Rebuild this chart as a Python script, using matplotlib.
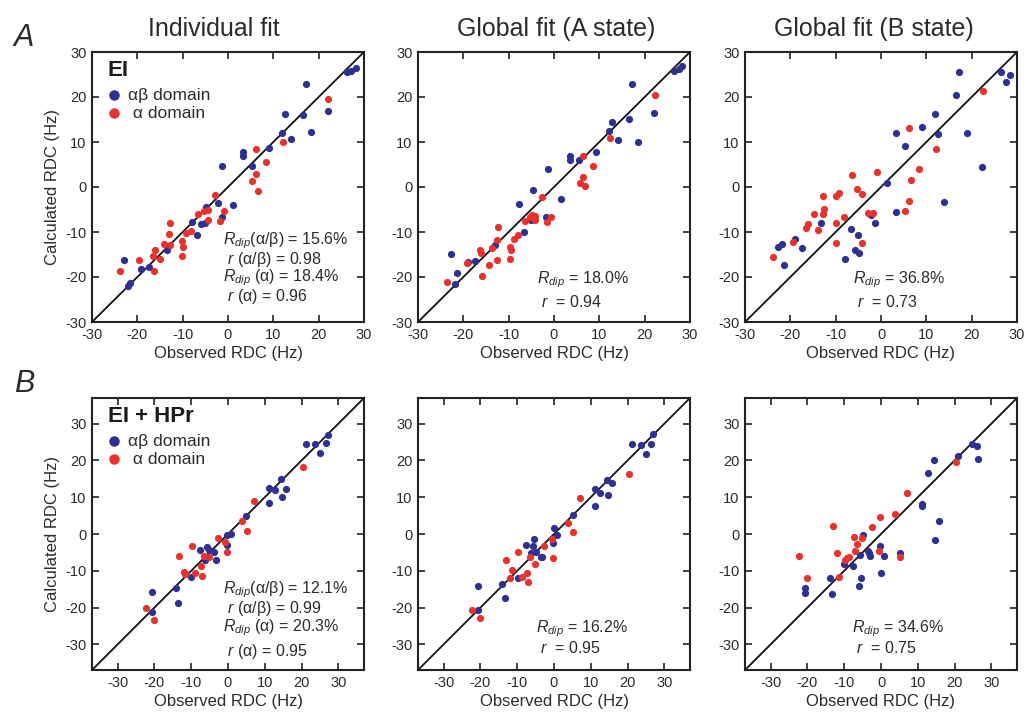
import matplotlib
matplotlib.use('Agg')
import matplotlib.pyplot as plt

plt.rcParams['font.family'] = ['Liberation Sans', 'DejaVu Sans']
plt.rcParams['mathtext.fontset'] = 'custom'
plt.rcParams['mathtext.it'] = 'Liberation Sans:italic'
plt.rcParams['mathtext.rm'] = 'Liberation Sans'
plt.rcParams['mathtext.sf'] = 'Liberation Sans'
plt.rcParams['axes.unicode_minus'] = False

BLUE = '#2e3192'
RED = '#e8322e'
TXT = '#2b2b2b'

# ---------------- data (observed, calculated RDC in Hz) ----------------
# Row A: EI
a1_ab_obs = [17.2, 12.6, 16.6, 18.4, 13.9, 11.9, 9.1, 3.4, 3.4, 5.2, -1.4, -2.1, 1.2, -1.4, -4.8, -5.9, -5.1,
             -7.9, -6.8, -13.4, -22.9, -19.2, -17.5, -21.7, -22.0, 22.0, 26.3, 27.2, 28.2]
a1_ab_calc = [22.8, 16.2, 16.1, 12.2, 10.7, 11.9, 8.7, 7.7, 7.0, 4.7, 4.7, -3.6, -4.1, -6.6, -4.5, -8.3, -7.9,
              -7.8, -10.7, -14.1, -16.2, -18.3, -17.7, -21.4, -21.9, 16.9, 25.5, 25.8, 26.5]
a1_a_obs = [12.1, 6.1, 8.3, 6.1, 5.4, 6.6, -2.9, -0.8, -1.8, -4.4, -5.4, -6.7, -4.4, -8.2, -9.3, -10.1, -10.0,
            -10.1, -12.7, -13.0, -12.9, -14.1, -14.9, -16.2, -16.6, -16.3, -19.7, -23.9, 22.0]
a1_a_calc = [10.1, 8.5, 5.6, 3.0, 1.3, -0.9, -1.8, -5.3, -7.6, -5.1, -5.3, -6.0, -7.3, -9.7, -10.3, -11.9, -13.4,
             -15.3, -7.9, -10.4, -12.8, -12.7, -16.1, -13.9, -15.3, -18.7, -16.3, -18.7, 19.6]

a2_ab_obs = [-22.7, -21.5, -21.8, -18.9, -17.4, -13.1, -7.8, -6.6, -4.6, -1.3, -1.7, 1.5, -5.0, 3.6, 3.6, 5.5,
             9.3, 12.2, 12.9, 14.2, 16.6, 17.1, 18.5, 22.0, 26.5, 27.5, 28.3]
a2_ab_calc = [-14.8, -19.2, -21.6, -16.6, -16.4, -12.8, -3.7, -10.1, -0.7, 4.0, -6.6, -2.7, -7.3, 7.0, 6.1, 5.9,
              7.7, 12.5, 14.4, 10.4, 15.1, 22.8, 9.9, 16.5, 25.8, 26.3, 27.0]
a2_a_obs = [-23.5, -19.3, -16.3, -16.0, -15.8, -14.4, -13.7, -12.6, -12.4, -12.6, -9.7, -9.5, -9.8, -8.9, -7.9,
            -6.4, -5.4, -4.8, -4.1, -4.1, -2.6, -1.5, -0.7, 6.4, 6.4, 5.8, 6.9, 8.5, 12.4, 22.3]
a2_a_calc = [-21.2, -16.8, -13.9, -14.7, -19.8, -17.3, -13.6, -11.8, -8.9, -16.3, -13.3, -14.1, -15.9, -11.6, -10.7,
             -7.6, -6.6, -6.2, -6.4, -7.4, -2.2, -7.7, -6.6, 7.0, 2.3, 0.8, 0.3, 4.7, 10.8, 20.5]

a3_ab_obs = [-22.7, -21.8, -21.5, -19.0, -17.4, -13.2, -7.9, -6.7, -5.8, -5.1, -4.8, -2.1, -1.4, 1.25, 3.3, 3.3,
             5.3, 9.1, 11.9, 12.6, 13.9, 16.5, 17.1, 19.0, 22.3, 26.5, 28.4, 27.6]
a3_ab_calc = [-13.4, -12.7, -17.3, -11.6, -13.5, -7.9, -15.9, -9.3, -13.9, -10.7, -14.7, -6.2, -8.1, 0.8, -5.6, 11.9,
              9.2, 13.3, 16.2, 11.7, -3.3, 20.4, 25.5, 12.0, 4.5, 25.6, 24.8, 23.3]
a3_a_obs = [-23.75, -19.5, -16.5, -16.1, -14.8, -13.8, -12.9, -12.7, -12.6, -10.0, -9.2, -9.9, -10.0, -8.1, -6.5,
            -5.4, -4.3, -4.3, -2.9, -1.7, -0.9, 5.4, 6.1, 6.6, 6.1, 8.3, 12.1, 22.5]
a3_a_calc = [-15.6, -12.2, -9.0, -8.3, -6.0, -9.6, -2.1, -6.0, -4.9, -2.0, -1.3, -8.1, -12.5, -6.6, 2.7,
             -0.4, -1.6, -12.4, -5.7, -5.7, 3.3, -5.4, -3.1, 1.5, 13.2, 4.1, 8.4, 21.3]

# Row B: EI + HPr
b1_ab_obs = [21.2, 23.6, 25.1, 14.5, 11.2, 12.7, 15.8, 14.7, 11.2, 5.0, 0.8, -0.15, -0.4, -7.7, -5.6, -5.3, -3.8,
             -3.3, -6.2, -10.1, -14.2, -13.6, -20.8, -20.7, 26.6, 27.1]
b1_ab_calc = [24.5, 24.5, 22.1, 15.0, 12.5, 12.0, 12.3, 10.1, 8.3, 4.9, 0.1, -0.35, -3.0, -4.25, -3.5, -4.3, -4.8,
              -7.2, -7.2, -11.8, -14.7, -18.8, -15.8, -21.3, 24.7, 26.9]
b1_a_obs = [20.5, 7.0, 3.8, 5.2, -2.6, -0.9, -0.4, -9.8, -13.2, -6.6, -5.2, -7.3, -9.1, -12.1, -11.6, -7.2,
            -22.4, -20.1]
b1_a_calc = [18.1, 9.1, 3.5, 0.8, -1.2, -2.3, -4.9, -3.4, -6.1, -5.9, -6.3, -8.7, -10.6, -10.4, -11.0, -11.4,
             -20.1, -23.5]

b2_ab_obs = [-20.6, -20.6, -14.1, -13.4, -9.9, -7.7, -5.45, -5.7, -6.3, -4.9, -3.6, -3.2, -0.1, -0.3, 0.8, 5.1,
             11.2, 11.2, 12.6, 14.5, 15.8, 14.7, 21.3, 23.6, 25.1, 26.4, 26.8]
b2_ab_calc = [-14.1, -20.7, -13.6, -17.4, -12.0, -3.1, -1.35, -3.25, -5.1, -4.8, -6.2, -6.3, 1.5, -2.4, -0.2, 5.2,
              12.25, 7.6, 11.2, 14.6, 14.0, 10.5, 24.5, 24.3, 21.8, 24.5, 27.1]
b2_a_obs = [-22.2, -20.0, -13.0, -11.5, -11.9, -9.8, -8.8, -7.3, -7.0, -6.6, -5.2, -2.6, -0.55, -0.3, 3.8, 5.2,
            7.2, 20.5]
b2_a_calc = [-20.8, -22.9, -7.2, -9.8, -11.9, -4.8, -11.6, -10.6, -13.0, -6.2, -8.2, -3.25, -1.4, -6.6, 2.9, 0.6,
             9.7, 16.2]

b3_ab_obs = [-20.6, -20.6, -14.0, -13.4, -10.0, -7.6, -5.9, -5.45, -5.7, -5.0, -3.6, -3.4, -3.1, -0.2, 0.0, 0.7,
             5.2, 11.2, 11.2, 12.7, 14.5, 14.7, 15.8, 21.0, 24.8, 26.0, 26.5]
b3_ab_calc = [-14.8, -16.1, -11.9, -16.4, -8.1, -8.8, -14.1, -12.1, -5.7, -0.3, -4.5, -5.1, -5.9, -3.2, -10.6, -5.9,
              -5.2, 8.1, 7.5, 16.5, 20.0, -1.6, 3.55, 21.3, 24.5, 24.0, 20.5]
b3_a_obs = [-22.2, -20.0, -13.0, -11.9, -11.5, -9.9, -9.2, -8.7, -7.3, -7.1, -6.6, -5.2, -2.5, -0.6, -0.3, 3.9,
            5.3, 7.1, 20.3]
b3_a_calc = [-5.9, -11.9, 2.1, -5.2, -11.7, -7.1, -6.4, -6.2, -0.7, -4.6, -2.8, -1.2, 1.9, -4.7, 4.5, 5.5,
             -6.3, 11.1, 19.5]

col_titles = ['Individual fit', 'Global fit (A state)', 'Global fit (B state)']
row_letters = ['A', 'B']
row_names = ['EI', 'EI + HPr']
legend_labels = ['αβ domain', ' α domain']
tick_vals = [-30, -20, -10, 0, 10, 20, 30]
row_limits = [(-30, 30), (-37, 37)]

stats = [
    [['$R_{dip}$(α/β) = 15.6%', ' $r$ (α/β) = 0.98', '$R_{dip}$ (α) = 18.4%', ' $r$ (α) = 0.96'],
     ['$R_{dip}$ = 18.0%', ' $r$  = 0.94'],
     ['$R_{dip}$ = 36.8%', ' $r$  = 0.73']],
    [['$R_{dip}$(α/β) = 12.1%', ' $r$ (α/β) = 0.99', '$R_{dip}$ (α) = 20.3%', ' $r$ (α) = 0.95'],
     ['$R_{dip}$ = 16.2%', ' $r$  = 0.95'],
     ['$R_{dip}$ = 34.6%', ' $r$  = 0.75']],
]

data = [
    [(a1_ab_obs, a1_ab_calc, a1_a_obs, a1_a_calc),
     (a2_ab_obs, a2_ab_calc, a2_a_obs, a2_a_calc),
     (a3_ab_obs, a3_ab_calc, a3_a_obs, a3_a_calc)],
    [(b1_ab_obs, b1_ab_calc, b1_a_obs, b1_a_calc),
     (b2_ab_obs, b2_ab_calc, b2_a_obs, b2_a_calc),
     (b3_ab_obs, b3_ab_calc, b3_a_obs, b3_a_calc)],
]

# ---------------- layout ----------------
W, H = 1026, 715
fig = plt.figure(figsize=(W / 100, H / 100), dpi=100)

col_left = [92, 418, 745]
row_top = [52, 398]
row_h = [270, 272]
ax_w = 272


def rect(left, top, w, h):
    return [left / W, 1 - (top + h) / H, w / W, h / H]


# stat text positions (axes fraction)
stat_pos = [
    [[(0.483, 0.300), (0.483, 0.232), (0.483, 0.164), (0.483, 0.096)],
     [(0.436, 0.156), (0.436, 0.074)],
     [(0.398, 0.156), (0.398, 0.074)]],
    [[(0.483, 0.296), (0.483, 0.227), (0.483, 0.156), (0.483, 0.067)],
     [(0.433, 0.153), (0.433, 0.080)],
     [(0.394, 0.153), (0.394, 0.080)]],
]

for r in range(2):
    for c in range(3):
        ax = fig.add_axes(rect(col_left[c], row_top[r], ax_w, row_h[r]))
        lim = row_limits[r]
        ax.set_xlim(lim)
        ax.set_ylim(lim)
        ax.axline((0, 0), slope=1, color='#111111', lw=1.3, zorder=1)
        xo, yo, xr, yr = data[r][c]
        ax.scatter(xo, yo, s=27, color=BLUE, lw=0, zorder=3, label=legend_labels[0])
        ax.scatter(xr, yr, s=27, color=RED, lw=0, zorder=3, label=legend_labels[1])
        ax.set_xticks(tick_vals)
        ax.set_yticks(tick_vals)
        ax.tick_params(direction='in', top=True, right=True, length=5, width=1.2,
                       labelsize=10.5, pad=4, labelcolor=TXT, color='#222222')
        for sp in ax.spines.values():
            sp.set_linewidth(1.5)
            sp.set_color('#222222')
        ax.set_xlabel('Observed RDC (Hz)', fontsize=12, color=TXT, labelpad=3)
        if c == 0:
            ax.set_ylabel('Calculated RDC (Hz)', fontsize=12, color=TXT, labelpad=4)
            ax.text(0.057, 0.933, row_names[r], transform=ax.transAxes, fontsize=16,
                    fontweight='bold', color='#1a1a1a', va='center', ha='left')
            ax.legend(loc='upper left', bbox_to_anchor=(0.05, 0.868), frameon=False,
                      fontsize=12.5, markerscale=1.45, handlelength=1.0, handletextpad=0.3,
                      labelspacing=0.15, borderpad=0, borderaxespad=0, labelcolor=TXT)
        for txt, (tx, ty) in zip(stats[r][c], stat_pos[r][c]):
            ax.text(tx, ty, txt, transform=ax.transAxes, fontsize=11.5, color=TXT,
                    ha='left', va='center')

title_x = [214, 556, 874]
for c in range(3):
    fig.text(title_x[c] / W, 1 - 29 / H, col_titles[c], fontsize=18, color=TXT,
             ha='center', va='center')

letter_y = [38, 384]
for r in range(2):
    fig.text(24 / W, 1 - letter_y[r] / H, row_letters[r], fontsize=22, style='italic',
             color=TXT, ha='center', va='center')

fig.savefig('out.png', dpi=100)
